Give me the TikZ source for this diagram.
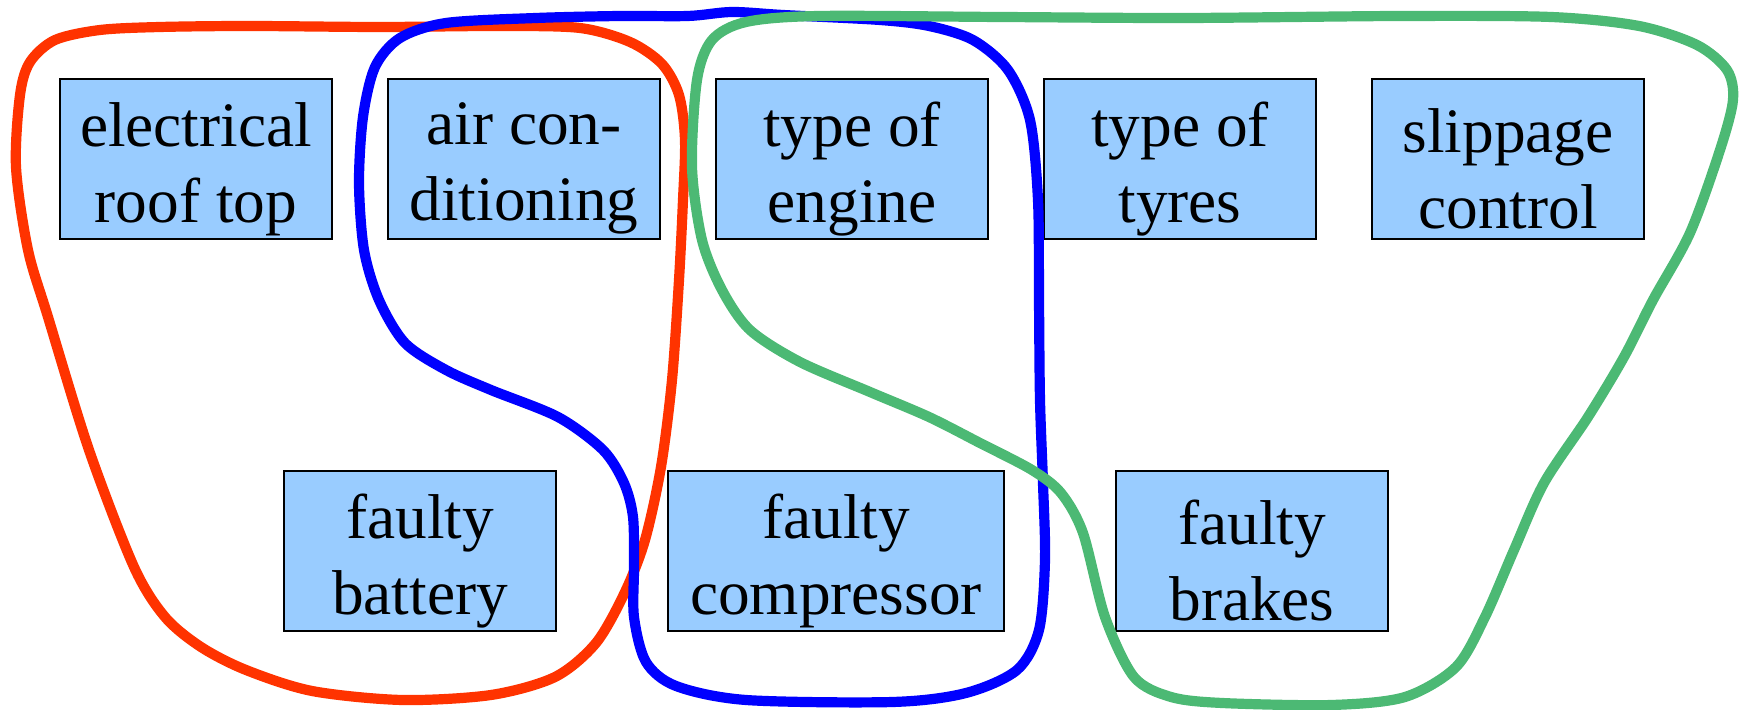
\documentclass[tikz,border=0pt]{standalone}
\usepackage{fontspec}
\setmainfont{Liberation Serif}
\definecolor{boxblue}{RGB}{153,204,255}
\definecolor{lred}{RGB}{255,51,0}
\definecolor{lblue}{RGB}{0,0,255}
\definecolor{lgreen}{RGB}{76,185,116}
\begin{document}
\begin{tikzpicture}[x=0.01cm,y=-0.01cm,
  item/.style={draw=black, line width=0.6pt, fill=boxblue, minimum width=2.72cm,
    minimum height=1.6cm, inner sep=0pt},
  txt/.style={align=center, inner sep=0pt, yshift=-2.8pt,
    font=\fontsize{18}{21.6}\selectfont},
  loop/.style={line width=2.9pt, line join=round}]
\useasboundingbox (0,0) rectangle (1747,710);
\node[item] (roof) at (196,159) {};
\node[item] (air) at (524,159) {};
\node[item] (engine) at (852,159) {};
\node[item] (tyres) at (1180,159) {};
\node[item] (slip) at (1508,159) {};
\node[item] (battery) at (420,551) {};
\node[item, minimum width=3.36cm] (compr) at (836,551) {};
\node[item] (brakes) at (1252,551) {};
\node[txt] (roofT) at (roof.center) {electrical\\roof top};
\node[txt] (airT) at (air.center) {air con-\\ditioning};
\node[txt] (engineT) at (engine.center) {type of\\engine};
\node[txt] (tyresT) at (tyres.center) {type of\\tyres};
\node[txt] (slipT) at (slip.center) {slippage\\control};
\node[txt] (batteryT) at (battery.center) {faulty\\battery};
\node[txt] (comprT) at (compr.center) {faulty\\compressor};
\node[txt] (brakesT) at (brakes.center) {faulty\\brakes};
\draw[loop, lred] plot[smooth cycle] coordinates {
  (20,95) (30,62) (55,40) (100,30) (160,27) (250,26) (379,27) (500,26) (580,28)
  (630,42) (662,64) (679,95) (685,140) (683,200) (679,280) (672,380)
  (661,467) (645,540) (625,592) (596,643) (555,677) (491,695) (402,700)
  (312,691) (246,670) (201,647) (165,617) (134,567) (89,450) (48,317)
  (28,250) (16,167)};
\draw[loop, lblue] plot[smooth cycle] coordinates {
  (375,67) (400,38) (446,23) (536,18) (620,16) (688,16) (732,12) (783,15)
  (880,20) (929,26) (973,40) (1008,70) (1030,120) (1038,200) (1039,300)
  (1040,400) (1043,483) (1045,560) (1039,630) (1017,670) (966,693)
  (893,702) (746,700) (676,686) (646,662) (634,617) (634,567) (633,517)
  (624,483) (603,450) (558,417) (491,390) (446,370) (405,343) (379,300)
  (364,250) (359,183) (363,117)};
\draw[loop, lgreen] plot[smooth cycle] coordinates {
  (697,80) (712,40) (746,22) (819,16) (1000,17) (1185,18) (1400,16)
  (1551,17) (1639,26) (1697,45) (1727,70) (1733,100) (1720,150)
  (1690,233) (1653,300) (1624,357) (1588,417) (1544,483) (1514,550)
  (1485,617) (1456,667) (1405,697) (1332,705) (1222,703) (1171,697)
  (1134,677) (1105,617) (1083,533) (1061,493) (1032,470) (980,443)
  (929,417) (870,392) (800,362) (750,330) (722,290) (702,240) (692,167)};
\end{tikzpicture}
\end{document}
